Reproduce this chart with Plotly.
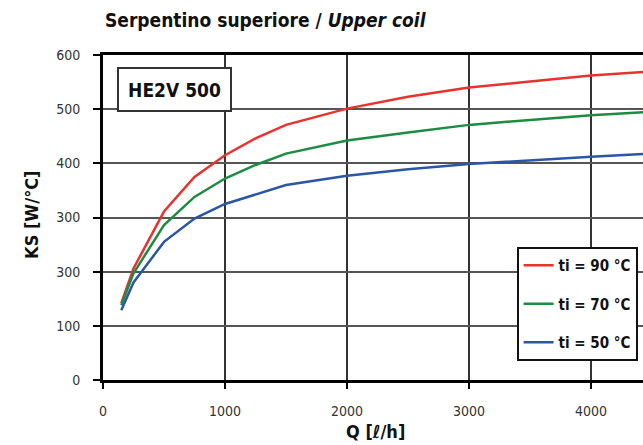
import plotly.graph_objects as go

# Flow rate Q [l/h]
q = [150, 250, 500, 750, 1000, 1250, 1500, 2000, 2500, 3000, 3500, 4000, 4500]
# KS [W/°C] for each inlet temperature
ks_90 = [142, 206, 311, 375, 415, 446, 471, 501, 523, 540, 551, 562, 570]
ks_70 = [138, 197, 286, 338, 372, 397, 418, 442, 457, 471, 480, 489, 495]
ks_50 = [129, 180, 255, 298, 325, 343, 360, 377, 389, 399, 406, 412, 418]

series = [("ti = 90 °C", ks_90, "#e8322e"),
          ("ti = 70 °C", ks_70, "#1b8c41"),
          ("ti = 50 °C", ks_50, "#2b55a6")]

y_ticks = [0, 100, 200, 300, 400, 500, 600]
y_ticktext = ["0", "100", "300", "300", "400", "500", "600"]
x_ticks = [0, 1000, 2000, 3000, 4000]
x_ticktext = ["0", "1000", "2000", "3000", "4000"]

FONT = "DejaVu Sans Condensed, Liberation Sans Narrow, sans-serif"

fig = go.Figure()
for i, (name, vals, col) in enumerate(series):
    fig.add_trace(go.Scatter(x=q, y=vals, mode="lines", name=f"<b>{name}</b>",
                             legendgroup=f"g{i}",
                             line=dict(color=col, width=2.5)))

fig.update_layout(
    width=643, height=445,
    margin=dict(l=103, r=0, t=55, b=65),
    paper_bgcolor="white", plot_bgcolor="white",
    font=dict(family=FONT, color="#222"),
    showlegend=True,
    legend=dict(x=0.99, xanchor="right", y=0.409, yanchor="top",
                bgcolor="white", bordercolor="#111", borderwidth=2,
                font=dict(size=15, color="#111", family=FONT),
                tracegroupgap=16, itemwidth=30),
)

fig.update_xaxes(range=[0, 4426], tickvals=x_ticks, ticktext=x_ticktext,
                 showline=True, linecolor="black", linewidth=3, mirror=True,
                 ticks="outside", ticklen=6, tickwidth=2, tickcolor="black",
                 showgrid=True, gridcolor="#333", gridwidth=1.5,
                 zeroline=False, ticklabelstandoff=10,
                 tickfont=dict(size=14, color="#333"))
fig.update_yaxes(range=[0, 600], tickvals=y_ticks, ticktext=y_ticktext,
                 showline=True, linecolor="black", linewidth=3,
                 ticks="outside", ticklen=7, tickwidth=2, tickcolor="black",
                 showgrid=True, gridcolor="#555", gridwidth=1.5,
                 zeroline=False, ticklabelstandoff=10,
                 tickfont=dict(size=14, color="#333"))

fig.add_annotation(xref="paper", yref="paper", x=0, y=1.108,
                   xanchor="left", yanchor="middle", showarrow=False,
                   text="<b>Serpentino superiore / <i>Upper coil</i></b>",
                   font=dict(size=19, color="#111", family=FONT))
fig.add_annotation(xref="paper", yref="paper", x=-0.1315, y=0.508,
                   xanchor="center", yanchor="middle", showarrow=False,
                   textangle=-90, text="<b>KS [W/°C]</b>",
                   font=dict(size=18, color="#111", family=FONT))
fig.add_annotation(xref="paper", yref="paper", x=0.504, y=-0.157,
                   xanchor="center", yanchor="middle", showarrow=False,
                   text="<b>Q [ℓ/h]</b>",
                   font=dict(size=18, color="#111", family=FONT))
fig.add_annotation(xref="paper", yref="paper", x=0.1324, y=0.894,
                   xanchor="center", yanchor="middle", showarrow=False,
                   text="<b>HE2V 500</b>", width=105, height=35, borderpad=3,
                   bgcolor="white", bordercolor="#333", borderwidth=2,
                   font=dict(size=19, color="#111", family=FONT))

fig.write_html(
    "out.html",
    config={"displayModeBar": False},
    post_script="document.body.style.margin='0';"
                "document.body.style.overflow='hidden';",
)
